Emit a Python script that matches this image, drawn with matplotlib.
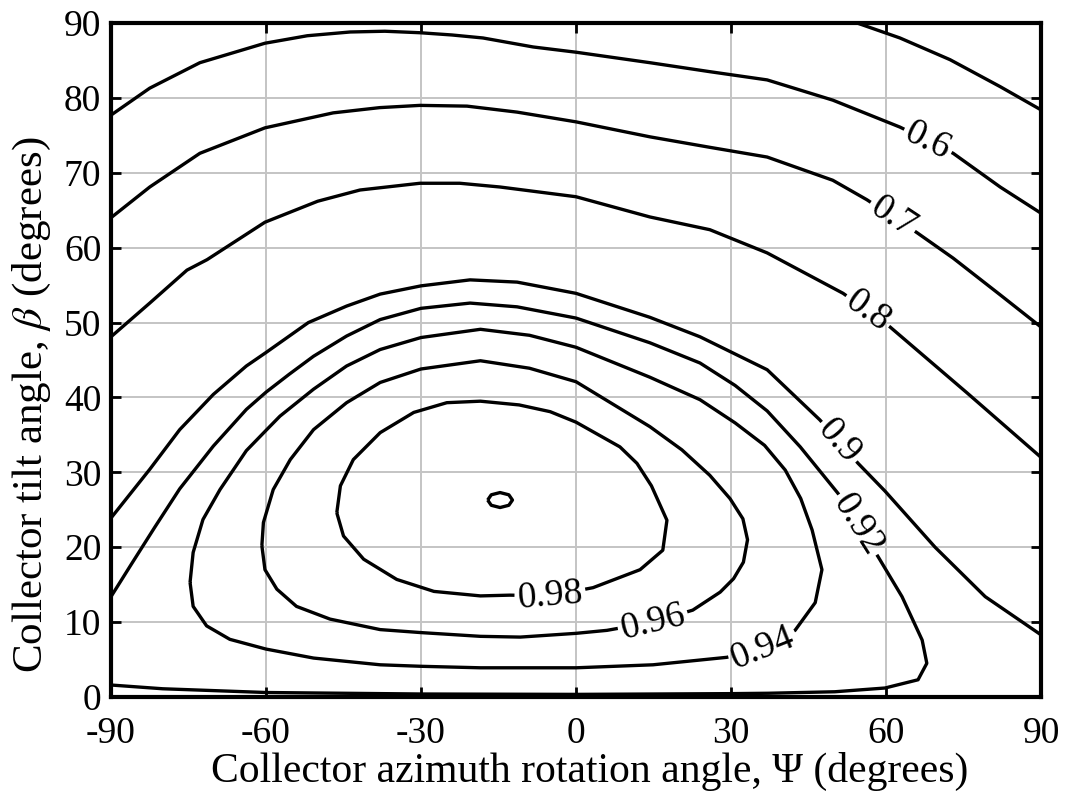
import numpy as np
import matplotlib
matplotlib.use('Agg')
import matplotlib.pyplot as plt
from matplotlib.contour import ContourSet

### DATA (azimuth psi, tilt beta) ###
levels = [0.5, 0.6, 0.7, 0.8, 0.9, 0.92, 0.94, 0.96, 0.98, 0.99]

c50_psi  = [54.4, 62.7, 72.4, 82.1, 90.0]
c50_beta = [90.0, 88.0, 85.1, 81.5, 78.4]

c60_psi  = [-90, -82.5, -72.8, -60.2, -52.0, -43.7, -37.0, -30.2, -24.0, -18.0, -8.3, 0.0, 14.3, 25.9, 37.0, 49.7, 62.7, 73.0, 82.1, 90]
c60_beta = [77.7, 81.3, 84.7, 87.3, 88.3, 88.8, 88.9, 88.7, 88.4, 88.0, 86.8, 86.1, 84.7, 83.5, 82.4, 79.7, 76.1, 72.6, 68.1, 64.6]

c70_psi  = [-90, -82.5, -72.8, -60.2, -47.0, -38.0, -30.2, -21.1, -11.4, 0.0, 14.3, 25.9, 37.0, 49.7, 56.3, 66.0, 73.0, 82.1, 90]
c70_beta = [64.0, 68.1, 72.6, 76.0, 78.0, 78.7, 79.0, 78.9, 78.1, 76.8, 74.8, 73.4, 72.1, 69.0, 66.4, 62.0, 58.6, 53.7, 49.4]

c80_psi  = [-90, -82.5, -75.3, -71.4, -60.2, -50.0, -41.8, -30.2, -22.5, -14.7, 0.0, 14.3, 25.9, 37.0, 51.7, 60.8, 75.7, 90]
c80_beta = [48.1, 52.6, 57.0, 58.4, 63.4, 66.2, 67.7, 68.6, 68.6, 68.1, 66.8, 64.1, 62.4, 59.3, 53.9, 49.4, 40.6, 32.0]

c90_psi  = [-90, -82.5, -76.7, -70.2, -63.8, -60.0, -51.8, -44.4, -37.9, -30.0, -20.5, -11.4, 0.0, 14.3, 24.0, 37.0,
            47.2, 54.6, 59.8, 69.5, 79.2, 90]
c90_beta = [23.9, 30.4, 35.7, 40.4, 44.2, 46.0, 50.0, 52.2, 53.8, 54.9, 55.7, 55.4, 53.9, 50.7, 48.1, 43.7,
            37.0, 31.2, 27.5, 20.0, 13.4, 8.3]

c92_psi  = [-90, -86.0, -81.5, -76.7, -70.2, -63.8, -60.0, -55.5, -50.8, -44.4, -37.9, -30.0, -20.5, -11.4, 0.0, 14.3,
            24.0, 30.8, 37.0, 43.4, 50.7, 54.6, 58.5, 63.1, 67.0, 67.9, 66.2, 59.8, 50.1, 37.2, 30.0, 0.0, -30.0,
            -60.0, -72.0, -80.0, -90]
c92_beta = [13.4, 17.8, 22.7, 27.8, 33.5, 38.4, 40.7, 43.1, 45.5, 48.2, 50.4, 51.9, 52.6, 52.1, 50.6, 47.3,
            44.6, 41.6, 38.2, 33.4, 27.2, 23.0, 18.7, 13.4, 7.6, 4.5, 2.3, 1.2, 0.7, 0.5, 0.45, 0.35, 0.4,
            0.6, 0.9, 1.1, 1.6]

c94_psi  = [-74.7, -74.1, -72.2, -68.9, -63.8, -60.0, -57.3, -50.8, -44.4, -37.9, -30.0, -18.5, -9.0, 0.0,
            14.3, 24.0, 30.8, 36.5, 40.5, 43.5, 45.7, 47.6, 46.3, 42.4, 36.2, 29.2, 14.9, 0.0, -18.5, -30.0,
            -37.9, -50.8, -60.0, -67.0, -71.5, -74.1, -74.7]
c94_beta = [15.3, 19.3, 23.7, 27.7, 32.9, 35.6, 37.5, 41.1, 44.2, 46.4, 48.0, 49.1, 48.3, 46.7,
            42.7, 39.7, 36.6, 33.6, 30.3, 26.5, 22.3, 17.0, 12.6, 8.9, 6.5, 5.3, 4.3, 3.9, 3.9, 4.1,
            4.3, 5.2, 6.4, 7.7, 9.5, 12.1, 15.3]

c96_psi  = [-60.8, -60.5, -58.6, -55.3, -50.8, -44.4, -37.9, -30.0, -18.5, -9.0, 0.0, 14.3, 20.5, 25.9, 29.8,
            32.3, 33.2, 32.4, 30.5, 27.9, 22.6, 14.9, 6.0, 0.0, -10.8, -18.5, -30.0, -37.9, -47.6, -54.1, -57.9,
            -60.2, -60.8]
c96_beta = [20.2, 23.3, 27.7, 31.7, 35.7, 39.3, 42.0, 43.8, 44.9, 43.9, 42.1, 36.1, 33.0, 29.6, 26.5,
            23.8, 21.0, 18.0, 15.8, 14.0, 11.6, 10.0, 8.9, 8.5, 8.0, 8.1, 8.6, 9.0, 10.4, 12.1, 14.4,
            17.0, 20.2]

c98_psi  = [-46.3, -45.6, -43.1, -37.9, -31.4, -25.0, -18.5, -11.0, -5.0, 0.0, 8.5, 11.8, 14.6, 17.6, 16.8, 12.4,
            3.3, -5.0, -12.8, -18.5, -27.5, -34.7, -41.1, -45.0, -46.3]
c98_beta = [24.6, 28.2, 31.7, 35.3, 38.0, 39.3, 39.5, 39.0, 38.1, 36.7, 33.4, 31.2, 28.2, 23.6, 19.6, 17.0,
            14.6, 13.5, 13.6, 13.5, 14.1, 15.7, 18.4, 21.5, 24.6]

c99_psi  = [-17.1, -16.4, -14.7, -13.0, -12.3, -13.0, -14.7, -16.4, -17.1]
c99_beta = [26.3, 27.0, 27.3, 27.0, 26.3, 25.6, 25.3, 25.6, 26.3]

# where the labels sit
label_psi  = [68.0, 61.2, 55.9, 50.1, 53.6, 36.2, 14.9, -5.0]
label_beta = [74.1, 64.0, 51.0, 33.6, 22.6, 6.5, 10.0, 13.4]

xticks = [-90, -60, -30, 0, 30, 60, 90]
yticks = [0, 10, 20, 30, 40, 50, 60, 70, 80, 90]

### STYLE ###
plt.rcParams['font.family'] = ['Liberation Serif', 'DejaVu Serif']
plt.rcParams['mathtext.fontset'] = 'stix'
plt.rcParams['axes.unicode_minus'] = False

fig = plt.figure(figsize=(10.68, 7.98), dpi=100)
ax = fig.add_axes([111/1068, 1-697/798, 930/1068, 674/798])

allsegs = []
for px, py in [(c50_psi, c50_beta), (c60_psi, c60_beta), (c70_psi, c70_beta), (c80_psi, c80_beta),
               (c90_psi, c90_beta), (c92_psi, c92_beta), (c94_psi, c94_beta), (c96_psi, c96_beta),
               (c98_psi, c98_beta), (c99_psi, c99_beta)]:
	allsegs.append([np.column_stack([px, py])])

cs = ContourSet(ax, levels, allsegs, colors='k', linewidths=2.4)
if hasattr(cs, 'set_joinstyle'):
	cs.set_joinstyle('round')
# labels only at the manual spots (0.5 and 0.99 get none)
ax.clabel(cs, manual=list(zip(label_psi, label_beta)), inline=True,
	fmt='%g', fontsize=27, inline_spacing=3)

ax.set_xlim(-90, 90)
ax.set_ylim(0, 90)
ax.set_xticks(xticks)
ax.set_yticks(yticks)
ax.grid(True, color='#c4c4c4', linewidth=1.4)
ax.set_axisbelow(True)
ax.tick_params(direction='in', length=7, width=2, top=True, right=True, labelsize=27)
ax.tick_params(axis='x', pad=14)
ax.tick_params(axis='y', pad=7)
for s in ax.spines.values():
	s.set_linewidth(3)

ax.set_xlabel('Collector azimuth rotation angle, Ψ (degrees)', fontsize=30)
ax.set_ylabel(r'Collector tilt angle, $\beta$ (degrees)', fontsize=31)
ax.xaxis.set_label_coords(0.515, -0.082)
ax.yaxis.set_label_coords(-0.062, 0.433)

fig.savefig('out.png', dpi=100)
